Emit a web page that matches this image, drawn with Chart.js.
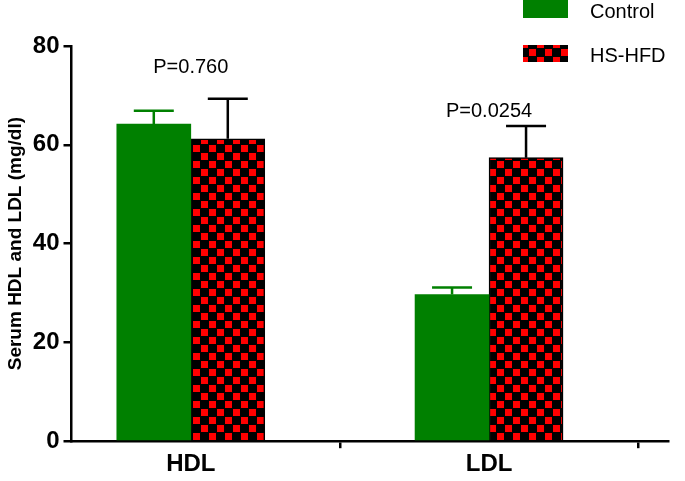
<!DOCTYPE html>
<html><head><script src="https://cdn.jsdelivr.net/npm/chart.js@4"></script>
<style>body{margin:0;background:#fff}#w{width:685px;height:481px}</style></head>
<body><div id="w"><canvas id="c"></canvas></div>
<script>
const categories = ['HDL', 'LDL'];
const catPos = [0.4, 1.4];
const controlValues = [64.2, 29.7];
const controlErrors = [2.7, 1.4];
const hsValues = [61.2, 57.4];
const hsErrors = [8.1, 6.4];
const pLabels = ['P=0.760', 'P=0.0254'];
const yTicks = [0, 20, 40, 60, 80];

function checker() {
  const c = document.createElement('canvas'); c.width = 16; c.height = 16;
  const g = c.getContext('2d');
  g.fillStyle = '#000'; g.fillRect(0, 0, 16, 16);
  g.fillStyle = '#ff0000'; g.fillRect(1, 1, 7, 7); g.fillRect(9, 9, 7, 7);
  return g.createPattern(c, 'repeat');
}
const pat = checker();

const extras = {
  id: 'extras',
  afterDatasetsDraw(chart) {
    const ctx = chart.ctx, x = chart.scales.x, y = chart.scales.y;
    const sets = [[0, controlValues, controlErrors, '#008000'], [1, hsValues, hsErrors, '#000']];
    sets.forEach(([di, vals, errs, col]) => {
      chart.getDatasetMeta(di).data.forEach((b, i) => {
        const top = y.getPixelForValue(vals[i]), e = y.getPixelForValue(vals[i] + errs[i]);
        ctx.save(); ctx.strokeStyle = col; ctx.lineWidth = 2.5;
        ctx.beginPath(); ctx.moveTo(b.x, top); ctx.lineTo(b.x, e);
        ctx.moveTo(b.x - 20, e); ctx.lineTo(b.x + 20, e); ctx.stroke(); ctx.restore();
      });
    });
    ctx.save(); ctx.fillStyle = '#000'; ctx.font = '20px "Liberation Sans", Arial'; ctx.textAlign = 'center';
    ctx.fillText(pLabels[0], x.getPixelForValue(catPos[0]), 73);
    ctx.fillText(pLabels[1], x.getPixelForValue(catPos[1]), 117);
    ctx.textAlign = 'left'; ctx.textBaseline = 'middle';
    ctx.fillStyle = '#008000'; ctx.fillRect(523, 0, 45, 18);
    ctx.fillStyle = pat; ctx.fillRect(523, 45, 45, 17);
    ctx.fillStyle = '#000'; ctx.fillText('Control', 590, 12); ctx.fillText('HS-HFD', 590, 56);
    ctx.restore();
  }
};

new Chart(document.getElementById('c'), {
  type: 'bar',
  data: { datasets: [
    { label: 'Control', data: catPos.map((p, i) => ({x: p, y: controlValues[i]})), backgroundColor: '#008000', barThickness: 74 },
    { label: 'HS-HFD', data: catPos.map((p, i) => ({x: p, y: hsValues[i]})), backgroundColor: pat, borderColor: '#000', borderWidth: 1.5, barThickness: 74 }
  ]},
  plugins: [extras],
  options: {
    responsive: true, maintainAspectRatio: false, animation: false,
    layout: { padding: { top: 46, right: 17, left: 2, bottom: 0 } },
    plugins: { legend: { display: false }, tooltip: { enabled: false } },
    scales: {
      x: { type: 'linear', min: 0, max: 2, offset: false,
        afterBuildTicks: s => { s.ticks = catPos.map(v => ({value: v})); },
        ticks: { callback: (v, i) => categories[i], color: '#000', font: { size: 24, weight: 'bold', family: '"Liberation Sans", Arial' }, padding: 2 },
        grid: { display: true, drawOnChartArea: false, drawTicks: true, tickLength: 7, color: '#000', lineWidth: 2.5 },
        border: { color: '#000', width: 2.5 } },
      y: { min: 0, max: 80,
        afterBuildTicks: s => { s.ticks = yTicks.map(v => ({value: v})); },
        ticks: { color: '#000', font: { size: 24, weight: 'bold', family: '"Liberation Sans", Arial' }, padding: 4 },
        grid: { display: true, drawOnChartArea: false, drawTicks: true, tickLength: 8, color: '#000', lineWidth: 2.5 },
        border: { color: '#000', width: 2.5 },
        title: { display: true, text: 'Serum HDL and LDL (mg/dl)', color: '#000', font: { size: 19, weight: 'bold', family: '"Liberation Sans", Arial' }, padding: 2 } }
    }
  }
});
</script></body></html>
